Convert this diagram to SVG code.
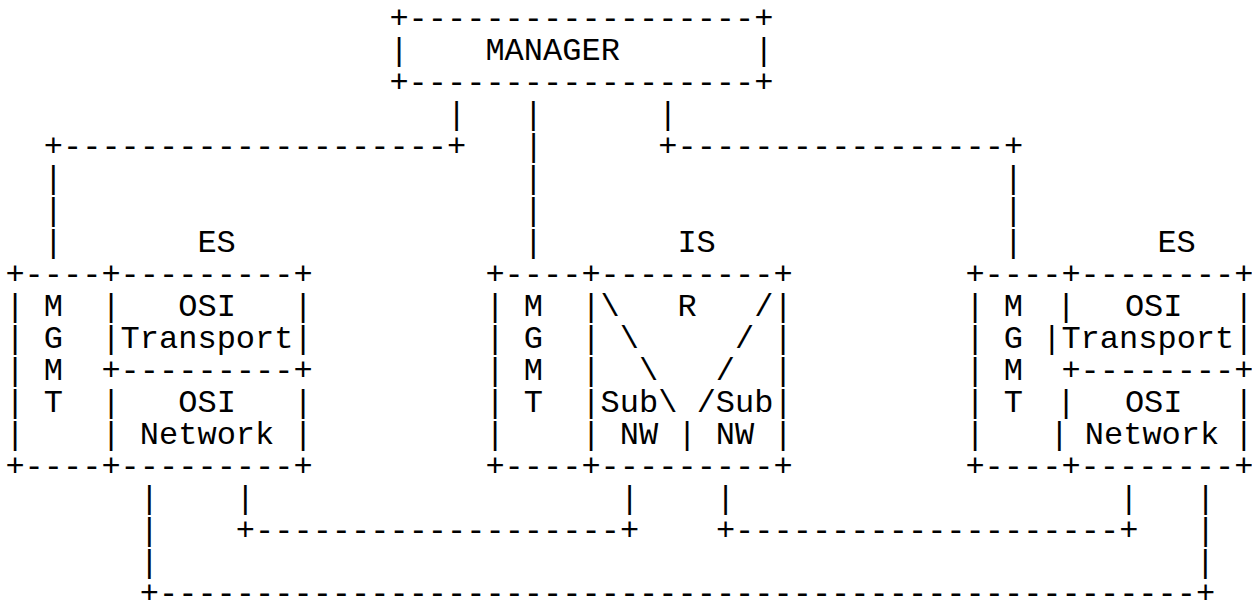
<svg xmlns="http://www.w3.org/2000/svg" width="1252" height="602" viewBox="0 0 1252 602" xml:space="preserve">
<style>
.t{font-family:"Liberation Mono","Courier New",monospace;font-size:32px;fill:#000;white-space:pre}
</style>
<rect x="0" y="0" width="1252" height="602" fill="#fff"/>
<g id="connectors">
<text class="t"><tspan x="447" y="124">|   |      |</tspan><tspan x="43.8" y="156">+--------------------+   |      +-----------------+</tspan><tspan x="43.8" y="188">|</tspan><tspan x="523.8" y="188">|</tspan><tspan x="1003.8" y="188">|</tspan><tspan x="43.8" y="220">|</tspan><tspan x="523.8" y="220">|</tspan><tspan x="1003.8" y="220">|</tspan><tspan x="43.8" y="252">|</tspan><tspan x="523.8" y="252">|</tspan><tspan x="1003.8" y="252">|</tspan></text>
<text class="t"><tspan x="139.8" y="508">|    |                   |    |                    |   |</tspan><tspan x="139.8" y="540">|    +-------------------+    +--------------------+   |</tspan><tspan x="139.8" y="572">|</tspan><tspan x="1195.8" y="572">|</tspan><tspan x="139.8" y="603">+------------------------------------------------------+</tspan></text>
</g>
<g id="manager">
<text class="t"><tspan x="389.4" y="28">+------------------+</tspan><tspan x="389.4" y="60">|    MANAGER       |</tspan><tspan x="389.4" y="92">+------------------+</tspan></text>
</g>
<g id="es-left">
<text class="t"><tspan x="197.4" y="252">ES</tspan><tspan x="5.4" y="284">+----+---------+</tspan><tspan x="5.4" y="316">| M  |   OSI   |</tspan><tspan x="5.4" y="348">| G  |Transport|</tspan><tspan x="5.4" y="380">| M  +---------+</tspan><tspan x="5.4" y="412">| T  |   OSI   |</tspan><tspan x="5.4" y="444">|    | Network |</tspan><tspan x="5.4" y="476">+----+---------+</tspan></text>
</g>
<g id="is">
<text class="t"><tspan x="677.4" y="252">IS</tspan><tspan x="485.4" y="284">+----+---------+</tspan><tspan x="485.4" y="316">| M  |\   R   /|</tspan><tspan x="485.4" y="348">| G  | \     / |</tspan><tspan x="485.4" y="380">| M  |  \   /  |</tspan><tspan x="485.4" y="412">| T  |Sub\ /Sub|</tspan><tspan x="485.4" y="444">|    | NW | NW |</tspan><tspan x="485.4" y="476">+----+---------+</tspan></text>
</g>
<g id="es-right">
<text class="t"><tspan x="1157.4" y="252">ES</tspan><tspan x="965.4" y="284">+----+--------+</tspan><tspan x="965.4" y="316">| M</tspan><tspan x="1056.4" y="316">|</tspan><tspan x="1124.9" y="316">OSI</tspan><tspan x="1234.2" y="316">|</tspan><tspan x="965.4" y="348">| G |Transport|</tspan><tspan x="965.4" y="380">| M  +--------+</tspan><tspan x="965.4" y="412">| T</tspan><tspan x="1056.4" y="412">|</tspan><tspan x="1124.9" y="412">OSI</tspan><tspan x="1234.2" y="412">|</tspan><tspan x="965.4" y="444">|</tspan><tspan x="1049.7" y="444">|</tspan><tspan x="1084.8" y="444">Network</tspan><tspan x="1234.2" y="444">|</tspan><tspan x="965.4" y="476">+----+--------+</tspan></text>
</g>
</svg>
